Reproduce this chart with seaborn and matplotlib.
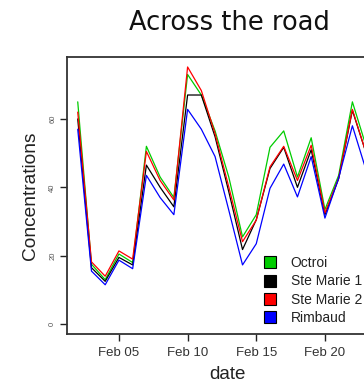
import numpy as np
import pandas as pd
import seaborn as sns
import matplotlib
matplotlib.use("Agg")
import matplotlib.pyplot as plt
import matplotlib.dates as mdates
from matplotlib.lines import Line2D

# Daily concentrations at four sites along the road
dates = pd.date_range("2012-02-02", "2012-02-23", freq="D")
octroi = [65, 17.5, 13, 20.5, 18, 52, 43, 37, 73, 67, 56.5, 43, 25.5, 32,
          51.7, 56.5, 43, 54.5, 33.5, 43.5, 65, 52]
ste_marie_1 = [60, 16.5, 12.5, 19.5, 17.3, 46.5, 40, 34.3, 67, 67, 54.8, 38.7,
               21.8, 30.5, 45.5, 51.7, 40, 51, 32, 42.5, 62.5, 50]
ste_marie_2 = [62, 18.2, 14, 21.4, 19, 50.5, 42, 36.3, 75.2, 68.3, 55.7, 40.1,
               24.1, 30.4, 46, 52, 42, 52.3, 32.5, 42.7, 62.8, 50]
rimbaud = [57, 15.5, 11.5, 18.7, 16.2, 43.5, 37, 32, 62.8, 57, 49, 33.3, 17.3,
           23.5, 39.7, 46.8, 37.2, 49, 31, 42.7, 58, 45]

sites = ["Octroi", "Ste Marie 1", "Ste Marie 2", "Rimbaud"]
colors = ["#00cc00", "#000000", "#ff0000", "#0000ff"]
y_ticks = [0, 20, 40, 60]
x_tick_days = [5, 10, 15, 20]

df = pd.concat(
    [pd.DataFrame({"date": dates, "value": vals, "site": name})
     for name, vals in zip(sites, [octroi, ste_marie_1, ste_marie_2, rimbaud])],
    ignore_index=True,
)

sns.set_theme(style="white")
plt.rcParams["font.family"] = ["Liberation Sans", "DejaVu Sans"]

fig = plt.figure(figsize=(3.64, 3.84), dpi=100)
x_left = mdates.date2num(pd.Timestamp("2012-02-02")) - 0.76
x_right = mdates.date2num(pd.Timestamp("2012-02-24")) + 0.5
ax = fig.add_axes([0.1849, 0.1302, 0.8775, 0.7221])

sns.lineplot(data=df, x="date", y="value", hue="site", hue_order=sites,
             palette=colors, linewidth=0.9, legend=False, ax=ax)

ax.set_xlim(x_left, x_right)
ax.set_ylim(-2.9, 78.2)

ax.xaxis.set_major_locator(mdates.DayLocator(bymonthday=x_tick_days))
ax.xaxis.set_major_formatter(mdates.DateFormatter("%b %d"))
ax.set_yticks(y_ticks)
ax.set_yticklabels([str(v) for v in y_ticks], rotation=90, va="center",
                   fontsize=5.5, color="#555555")
ax.tick_params(axis="x", labelsize=9.5, labelcolor="#333333", length=5,
               width=1.0, pad=4.5, direction="out", bottom=True, color="#222222")
ax.tick_params(axis="y", length=5, width=1.0, pad=3, direction="out",
               left=True, color="#222222")

for side in ["left", "bottom", "top", "right"]:
    ax.spines[side].set_color("#333333")
    ax.spines[side].set_linewidth(1.3)

ax.set_xlabel("date", fontsize=13.5, color="#222222", labelpad=5)
ax.set_ylabel("Concentrations", fontsize=13.8, color="#222222", labelpad=7)

fig.text(0.629, 0.939, "Across the road", ha="center", va="center",
         fontsize=18.5, family="DejaVu Sans", color="#111111")

handles = [Line2D([0], [0], linestyle="none", marker="s", markersize=8.6,
                  markerfacecolor=c, markeredgecolor="black",
                  markeredgewidth=0.8) for c in colors]
fig.legend(handles, sites, loc="upper left",
           bbox_to_anchor=(0.7225, 1 - 256 / 384),
           bbox_transform=fig.transFigure, frameon=False, fontsize=10,
           handlelength=1.0, handletextpad=1.0, labelspacing=0.32,
           borderpad=0, borderaxespad=0, labelcolor="#222222")

fig.savefig("out.png", dpi=100)
